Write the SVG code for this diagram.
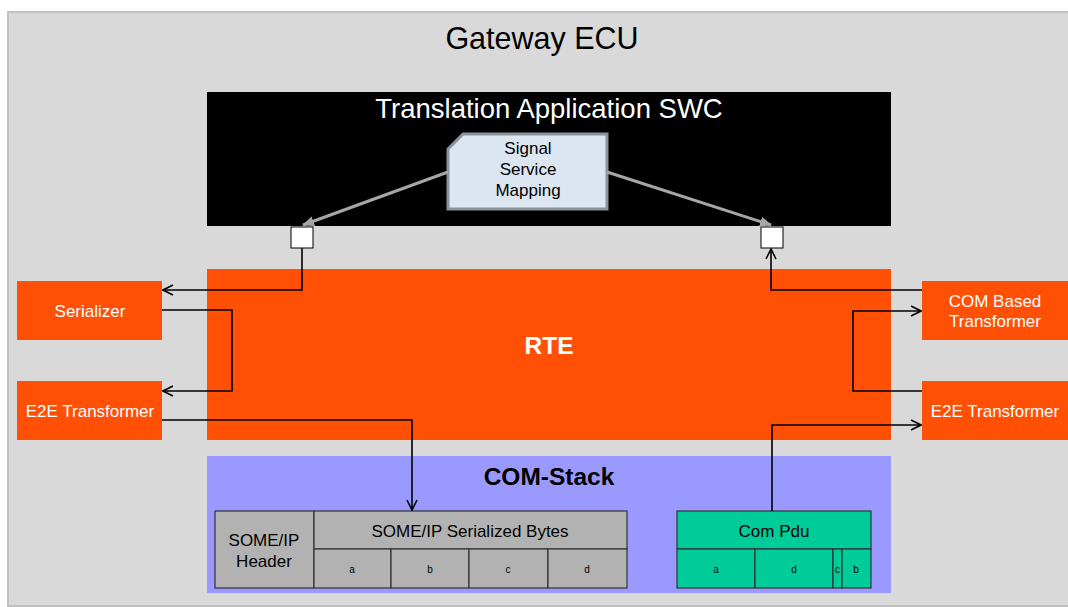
<svg xmlns="http://www.w3.org/2000/svg" width="1068" height="607" viewBox="0 0 1068 607">
<defs>
<style>
text{font-family:"Liberation Sans",Arial,sans-serif}
.ow{fill:#ff5005}
.wt{fill:#fff;font-size:17px;text-anchor:middle}
.bt{fill:#000;font-size:17px;text-anchor:middle}
.sm{fill:#000;font-size:10px;text-anchor:middle}
.cell{stroke:#333;stroke-width:1.2}
.conn{fill:none;stroke:#000;stroke-width:1.6}
.gconn{fill:none;stroke:#a6a6a6;stroke-width:3}
</style>
<marker id="open" viewBox="0 0 12 12" refX="11" refY="6" markerWidth="12" markerHeight="12" markerUnits="userSpaceOnUse" orient="auto">
<path d="M1,1 L11,6 L1,11" fill="none" stroke="#000" stroke-width="1.6"/>
</marker>
<marker id="garr" viewBox="0 0 12 12" refX="11" refY="6" markerWidth="12" markerHeight="12" markerUnits="userSpaceOnUse" orient="auto">
<path d="M0,1 L12,6 L0,11 Z" fill="#a6a6a6"/>
</marker>
</defs>
<rect x="0" y="0" width="1068" height="607" fill="#fff"/>
<g id="gateway">
<rect x="8" y="12" width="1070" height="594" fill="#d9d9d9" stroke="#c0c0c0" stroke-width="2"/>
<text x="542" y="49" font-size="30.500" text-anchor="middle" fill="#000">Gateway ECU</text>
</g>
<g id="swc">
<rect x="207" y="92" width="684" height="134" fill="#000"/>
<text x="549" y="118" font-size="27.500" text-anchor="middle" fill="#fff">Translation Application SWC</text>
</g>
<g id="mapping">
<path d="M463,134 L607,134 L607,209 L448,209 L448,149 Z" fill="#dce6f0" stroke="#8a939b" stroke-width="3"/>
<text x="528" y="154" class="bt">Signal</text>
<text x="528" y="175" class="bt">Service</text>
<text x="528" y="196" class="bt">Mapping</text>
</g>
<g id="port-left"><rect x="291" y="227" width="22" height="21" fill="#fff" stroke="#000" stroke-width="1"/></g>
<g id="port-right"><rect x="761" y="227" width="22" height="21" fill="#fff" stroke="#000" stroke-width="1"/></g>
<g id="rte">
<rect x="207" y="269" width="684" height="171" class="ow"/>
<text x="549" y="354" font-size="24.500" font-weight="bold" text-anchor="middle" fill="#fff">RTE</text>
</g>
<g id="serializer">
<rect x="17" y="281" width="145" height="59" class="ow"/>
<text x="90" y="317" class="wt">Serializer</text>
</g>
<g id="e2e-left">
<rect x="17" y="381" width="145" height="59" class="ow"/>
<text x="90" y="417" class="wt">E2E Transformer</text>
</g>
<g id="com-based">
<rect x="922" y="281" width="146" height="59" class="ow"/>
<text x="995" y="307" class="wt">COM Based</text>
<text x="995" y="327" class="wt">Transformer</text>
</g>
<g id="e2e-right">
<rect x="922" y="381" width="146" height="59" class="ow"/>
<text x="995" y="417" class="wt">E2E Transformer</text>
</g>
<g id="comstack">
<rect x="207" y="456" width="684" height="137" fill="#9999ff"/>
<text x="549" y="485" font-size="24.500" font-weight="bold" text-anchor="middle" fill="#000">COM-Stack</text>
</g>
<g id="someip">
<rect x="215" y="511" width="99" height="77" fill="#b2b2b2" class="cell"/>
<text x="264" y="546" class="bt">SOME/IP</text>
<text x="264" y="567" class="bt">Header</text>
<rect x="314" y="511" width="313" height="38" fill="#b2b2b2" class="cell"/>
<text x="470" y="537" class="bt">SOME/IP Serialized Bytes</text>
<rect x="314" y="549" width="77" height="39" fill="#b2b2b2" class="cell"/>
<rect x="391" y="549" width="78" height="39" fill="#b2b2b2" class="cell"/>
<rect x="469" y="549" width="79" height="39" fill="#b2b2b2" class="cell"/>
<rect x="548" y="549" width="79" height="39" fill="#b2b2b2" class="cell"/>
<text x="352" y="573" class="sm">a</text>
<text x="430" y="573" class="sm">b</text>
<text x="508" y="573" class="sm">c</text>
<text x="587" y="573" class="sm">d</text>
</g>
<g id="compdu">
<rect x="677" y="511" width="194" height="38" fill="#00cc99" class="cell"/>
<text x="774" y="537" class="bt">Com Pdu</text>
<rect x="677" y="549" width="78" height="39" fill="#00cc99" class="cell"/>
<rect x="755" y="549" width="78" height="39" fill="#00cc99" class="cell"/>
<rect x="833" y="549" width="9" height="39" fill="#00cc99" class="cell"/>
<rect x="842" y="549" width="29" height="39" fill="#00cc99" class="cell"/>
<text x="716" y="573" class="sm">a</text>
<text x="794" y="573" class="sm">d</text>
<text x="837.500" y="573" class="sm" font-size="8">c</text>
<text x="856" y="573" class="sm">b</text>
</g>
<g id="connectors">
<line x1="448" y1="172" x2="303" y2="225" class="gconn" marker-end="url(#garr)"/>
<line x1="607" y1="172" x2="771" y2="225" class="gconn" marker-end="url(#garr)"/>
<polyline points="302,248 302,290 163,290" class="conn" marker-end="url(#open)"/>
<polyline points="162,310 232,310 232,391 163,391" class="conn" marker-end="url(#open)"/>
<polyline points="162,420 412,420 412,510" class="conn" marker-end="url(#open)"/>
<polyline points="772,511 772,425 921,425" class="conn" marker-end="url(#open)"/>
<polyline points="922,391 853,391 853,311 921,311" class="conn" marker-end="url(#open)"/>
<polyline points="922,290 771,290 771,249" class="conn" marker-end="url(#open)"/>
</g>
</svg>
